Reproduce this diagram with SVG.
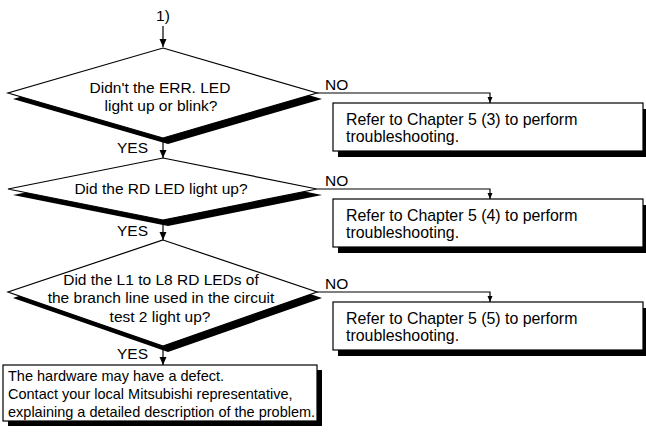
<svg xmlns="http://www.w3.org/2000/svg" width="646" height="434" viewBox="0 0 646 434">
<style>
text{font-family:"Liberation Sans",Arial,sans-serif;font-size:15.5px;fill:#000}
.shape{fill:#fff;stroke:#000;stroke-width:1.2}
.shadow{fill:#000;stroke:none}
.line{fill:none;stroke:#000;stroke-width:1.2}
.mid{text-anchor:middle}
.end{text-anchor:end}
.small{font-size:14.5px}
.ref{font-size:15.9px}
</style>
<defs>
<marker id="arrow" markerUnits="userSpaceOnUse" markerWidth="8" markerHeight="8" refX="8" refY="3.5" orient="auto">
<path d="M0,0 L8,3.5 L0,7 z" fill="#000"/>
</marker>
<marker id="arrowSmall" markerUnits="userSpaceOnUse" markerWidth="6" markerHeight="6" refX="6" refY="2.5" orient="auto">
<path d="M0,0 L6,2.5 L0,5 z" fill="#000"/>
</marker>
</defs>
<rect width="646" height="434" fill="#fff"/>

<g id="connectors">
<text class="mid" x="163" y="21">1)</text>
<line class="line" x1="163" y1="26" x2="163" y2="47" marker-end="url(#arrow)"/>
<polyline class="line" points="317,93 490,93 490,103" marker-end="url(#arrowSmall)"/>
<text x="325" y="90">NO</text>
<line class="line" x1="163" y1="138" x2="163" y2="158" marker-end="url(#arrow)"/>
<text class="end" x="148" y="153">YES</text>
<polyline class="line" points="317,189 490,189 490,199" marker-end="url(#arrowSmall)"/>
<text x="325" y="186">NO</text>
<line class="line" x1="163" y1="220" x2="163" y2="240" marker-end="url(#arrow)"/>
<text class="end" x="148" y="236">YES</text>
<polyline class="line" points="317,292 490,292 490,302" marker-end="url(#arrowSmall)"/>
<text x="325" y="289">NO</text>
<line class="line" x1="163" y1="346" x2="163" y2="365" marker-end="url(#arrow)"/>
<text class="end" x="148" y="359">YES</text>
</g>

<g id="decision1">
<polygon class="shadow" points="168,54 322,99 168,144 13,99"/>
<polygon class="shape" points="163,48 317,93 163,138 8,93"/>
<text class="mid" x="160" y="93">Didn't the ERR. LED</text>
<text class="mid" x="161" y="111">light up or blink?</text>
</g>

<g id="box1">
<rect class="shadow" x="338" y="109" width="310" height="48"/>
<rect class="shape" x="333" y="103" width="310" height="48"/>
<text class="ref" x="346" y="125">Refer to Chapter 5 (3) to perform</text>
<text class="ref" x="346" y="142">troubleshooting.</text>
</g>

<g id="decision2">
<polygon class="shadow" points="168,164 322,195 168,226 13,195"/>
<polygon class="shape" points="163,158 317,189 163,220 8,189"/>
<text class="mid" x="161" y="194">Did the RD LED light up?</text>
</g>

<g id="box2">
<rect class="shadow" x="338" y="205" width="310" height="48"/>
<rect class="shape" x="333" y="199" width="310" height="48"/>
<text class="ref" x="346" y="221">Refer to Chapter 5 (4) to perform</text>
<text class="ref" x="346" y="238">troubleshooting.</text>
</g>

<g id="decision3">
<polygon class="shadow" points="168,246 322,298 168,352 13,298"/>
<polygon class="shape" points="163,240 317,292 163,346 8,292"/>
<text class="mid" x="161" y="285">Did the L1 to L8 RD LEDs of</text>
<text class="mid" x="161" y="303">the branch line used in the circuit</text>
<text class="mid" x="160" y="322">test 2 light up?</text>
</g>

<g id="box3">
<rect class="shadow" x="338" y="308" width="310" height="48"/>
<rect class="shape" x="333" y="302" width="310" height="48"/>
<text class="ref" x="346" y="324">Refer to Chapter 5 (5) to perform</text>
<text class="ref" x="346" y="341">troubleshooting.</text>
</g>

<g id="box4">
<rect class="shadow" x="8" y="370" width="314" height="56"/>
<rect class="shape" x="3" y="365" width="314" height="56"/>
<text class="small" x="8" y="381">The hardware may have a defect.</text>
<text class="small" x="8" y="399">Contact your local Mitsubishi representative,</text>
<text class="small" x="8" y="417">explaining a detailed description of the problem.</text>
</g>
</svg>
